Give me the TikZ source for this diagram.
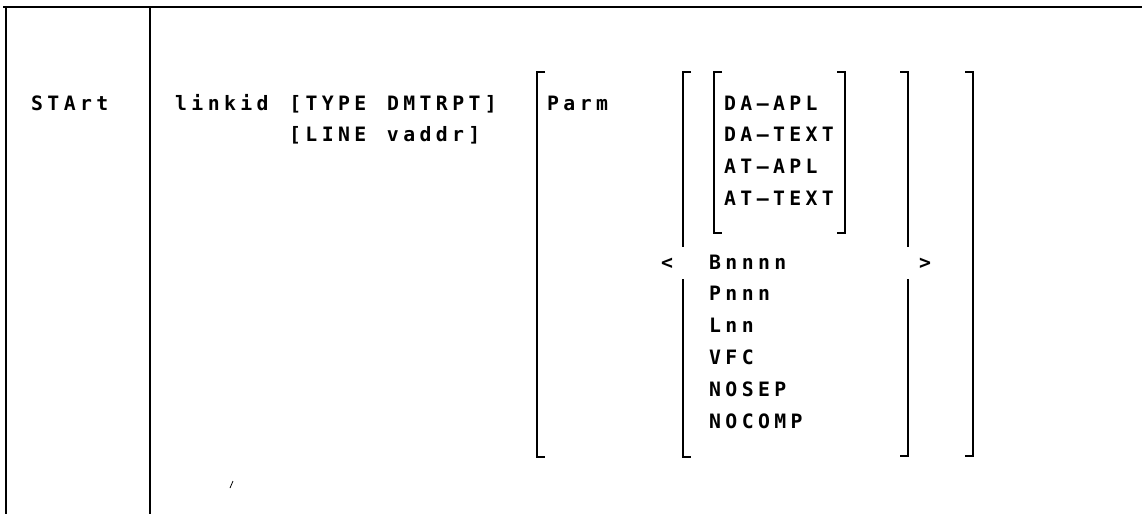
\documentclass[tikz,border=0pt]{standalone}
\usepackage{fontspec}
\newfontfamily\monofnt{DejaVu Sans Mono Bold}
\def\mtxt#1{\mtxtloop#1\relax}
\def\mtxtloop#1{\ifx#1\relax\else\makebox[16.3pt][c]{#1}\expandafter\mtxtloop\fi}
\tikzset{
  txt/.style={inner sep=0pt, outer sep=0pt, anchor=base west, font=\monofnt\fontsize{19.8}{22}\selectfont},
  rule/.style={line width=2.6pt},
  brk/.style={line width=2.6pt, line cap=butt, line join=miter},
}
\begin{document}
\begin{tikzpicture}[x=1pt, y=-1pt]
\useasboundingbox (0,0) rectangle (1142,514);
\fill[white] (0,0) rectangle (1142,514);
% table rules
\coordinate (tl) at (3,7);
\coordinate (tr) at (1142,7);
\coordinate (lt) at (6,7);
\coordinate (lb) at (6,514);
\coordinate (dt) at (150,7);
\coordinate (db) at (150,514);
\draw[rule] (tl) -- (tr);
\draw[rule] (lt) -- (lb);
\draw[rule] (dt) -- (db);
% texts
\node[txt] (start) at (29,110) {\mtxt{STArt}};
\node[txt] (linkid) at (173,110) {\mtxt{linkid~[TYPE~DMTRPT]}};
\node[txt] (line) at (287,141.8) {\mtxt{[LINE~vaddr]}};
\node[txt] (parm) at (545,110) {\mtxt{Parm}};
\node[txt] (daapl) at (722,110) {\mtxt{DA–APL}};
\node[txt] (datext) at (722,141.8) {\mtxt{DA–TEXT}};
\node[txt] (atapl) at (722,173.6) {\mtxt{AT–APL}};
\node[txt] (attext) at (722,205.4) {\mtxt{AT–TEXT}};
\node[txt] (lt1) at (659,269) {\mtxt{<}};
\node[txt] (bnnnn) at (707,269) {\mtxt{Bnnnn}};
\node[txt] (gt1) at (917,269) {\mtxt{>}};
\node[txt] (pnnn) at (707,300.8) {\mtxt{Pnnn}};
\node[txt] (lnn) at (707,332.6) {\mtxt{Lnn}};
\node[txt] (vfc) at (707,364.4) {\mtxt{VFC}};
\node[txt] (nosep) at (707,396.2) {\mtxt{NOSEP}};
\node[txt] (nocomp) at (707,428) {\mtxt{NOCOMP}};
% brackets
\draw[brk] (545,72) -- (537,72) -- (537,457) -- (545,457);
\draw[brk] (691,72) -- (683,72) -- (683,247);
\draw[brk] (683,279) -- (683,457) -- (691,457);
\draw[brk] (722,72) -- (714,72) -- (714,233) -- (722,233);
\draw[brk] (837,72) -- (845,72) -- (845,233) -- (837,233);
\draw[brk] (900,72) -- (908,72) -- (908,247);
\draw[brk] (908,279) -- (908,456) -- (900,456);
\draw[brk] (965,72) -- (973,72) -- (973,456) -- (965,456);
% stray mark
\draw[line width=0.8pt] (230,488) -- (233,481);
\end{tikzpicture}
\end{document}
